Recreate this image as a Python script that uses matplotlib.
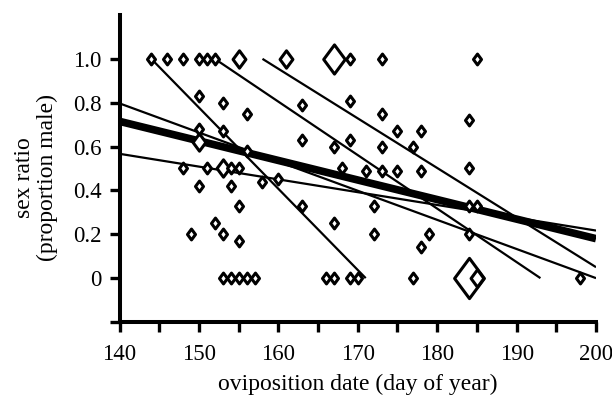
import matplotlib
matplotlib.use("Agg")
import matplotlib.pyplot as plt
from matplotlib.path import Path

# observed sex ratios per oviposition date; weight = relative sample size (marker size class)
days = [144, 146, 148, 150, 151, 152, 155, 161, 167, 169, 173, 185,
        150, 153, 156, 150, 153, 150, 156,
        148, 151, 153, 154, 155, 150, 154, 155, 149, 153, 152, 155,
        153, 154, 155, 156, 157,
        158, 160, 163, 167, 166, 167, 169, 170,
        172, 172, 179, 178, 177,
        171, 173, 175, 178, 168,
        163, 169, 173, 175, 178,
        163, 167, 169, 173, 177,
        184, 184, 184, 185, 184, 184, 185, 198]
ratios = [1.0, 1.0, 1.0, 1.0, 1.0, 1.0, 1.0, 1.0, 1.0, 1.0, 1.0, 1.0,
          0.83, 0.80, 0.75, 0.68, 0.67, 0.62, 0.58,
          0.50, 0.50, 0.50, 0.50, 0.50, 0.42, 0.42, 0.33, 0.20, 0.20, 0.25, 0.17,
          0.0, 0.0, 0.0, 0.0, 0.0,
          0.44, 0.45, 0.33, 0.25, 0.0, 0.0, 0.0, 0.0,
          0.33, 0.20, 0.20, 0.14, 0.0,
          0.49, 0.49, 0.49, 0.49, 0.50,
          0.79, 0.81, 0.75, 0.67, 0.67,
          0.63, 0.60, 0.63, 0.60, 0.60,
          0.72, 0.50, 0.33, 0.33, 0.20, 0.0, 0.0, 0.0]
weight = [1, 1, 1, 1, 1, 1, 2, 2, 3, 1, 1, 1,
          1, 1, 1, 1, 1, 2, 1,
          1, 1, 2, 1, 1, 1, 1, 1, 1, 1, 1, 1,
          1, 1, 1, 1, 1,
          1, 1, 1, 1, 1, 1, 1, 1,
          1, 1, 1, 1, 1,
          1, 1, 1, 1, 1,
          1, 1, 1, 1, 1,
          1, 1, 1, 1, 1,
          1, 1, 1, 1, 1, 4, 2, 1]

# fitted lines: start/end (day, ratio)
line_x0 = [144, 152, 158, 140, 140, 140]
line_y0 = [1.0, 1.0, 1.0, 0.797, 0.567, 0.715]
line_x1 = [171, 193, 200, 200, 200, 200]
line_y1 = [0.0, 0.0, 0.05, 0.0, 0.217, 0.18]
line_w = [1.6, 1.6, 1.6, 1.6, 1.6, 5.5]

plt.rcParams['font.family'] = ['Liberation Serif', 'DejaVu Serif']

fig = plt.figure(figsize=(6.12, 3.99), dpi=100)
ax = fig.add_axes([0.1953, 0.193, 0.7786, 0.7694])

for x0, y0, x1, y1, w in zip(line_x0, line_y0, line_x1, line_y1, line_w):
    ax.plot([x0, x1], [y0, y1], color='black', lw=w, solid_capstyle='butt', zorder=2)

diamond = Path([(0, -1), (0.74, 0), (0, 1), (-0.74, 0), (0, -1)],
               [Path.MOVETO, Path.LINETO, Path.LINETO, Path.LINETO, Path.CLOSEPOLY])
msize = {1: 7.8, 2: 12.5, 3: 21.0, 4: 29.0}
for k in [4, 3, 2, 1]:
    xs = [d for d, w in zip(days, weight) if w == k]
    ys = [r for r, w in zip(ratios, weight) if w == k]
    ax.plot(xs, ys, ls='none', marker=diamond, ms=msize[k], mfc='white',
            mec='black', mew=2.2, zorder=3)

ax.set_xlim(140, 200)
ax.set_ylim(-0.2, 1.2)
ax.set_xticks(range(140, 201, 10))
ax.set_xticks(range(145, 200, 10), minor=True)
ax.set_yticks([-0.2, 0, 0.2, 0.4, 0.6, 0.8, 1.0])
ax.set_yticklabels(['', '0', '0.2', '0.4', '0.6', '0.8', '1.0'])
ax.tick_params(which='both', direction='out', length=7, width=2.4, labelsize=16.5)
ax.tick_params(axis='x', pad=9)
ax.tick_params(axis='y', pad=6)

for s in ['top', 'right']:
    ax.spines[s].set_visible(False)
for s in ['left', 'bottom']:
    ax.spines[s].set_linewidth(2.9)

ax.set_xlabel('oviposition date (day of year)', fontsize=17, labelpad=6)
ax.set_ylabel('sex ratio\n(proportion male)', fontsize=17, linespacing=1.1)
ax.yaxis.set_label_coords(-0.13, 0.47)

fig.savefig('out.png', dpi=100)
